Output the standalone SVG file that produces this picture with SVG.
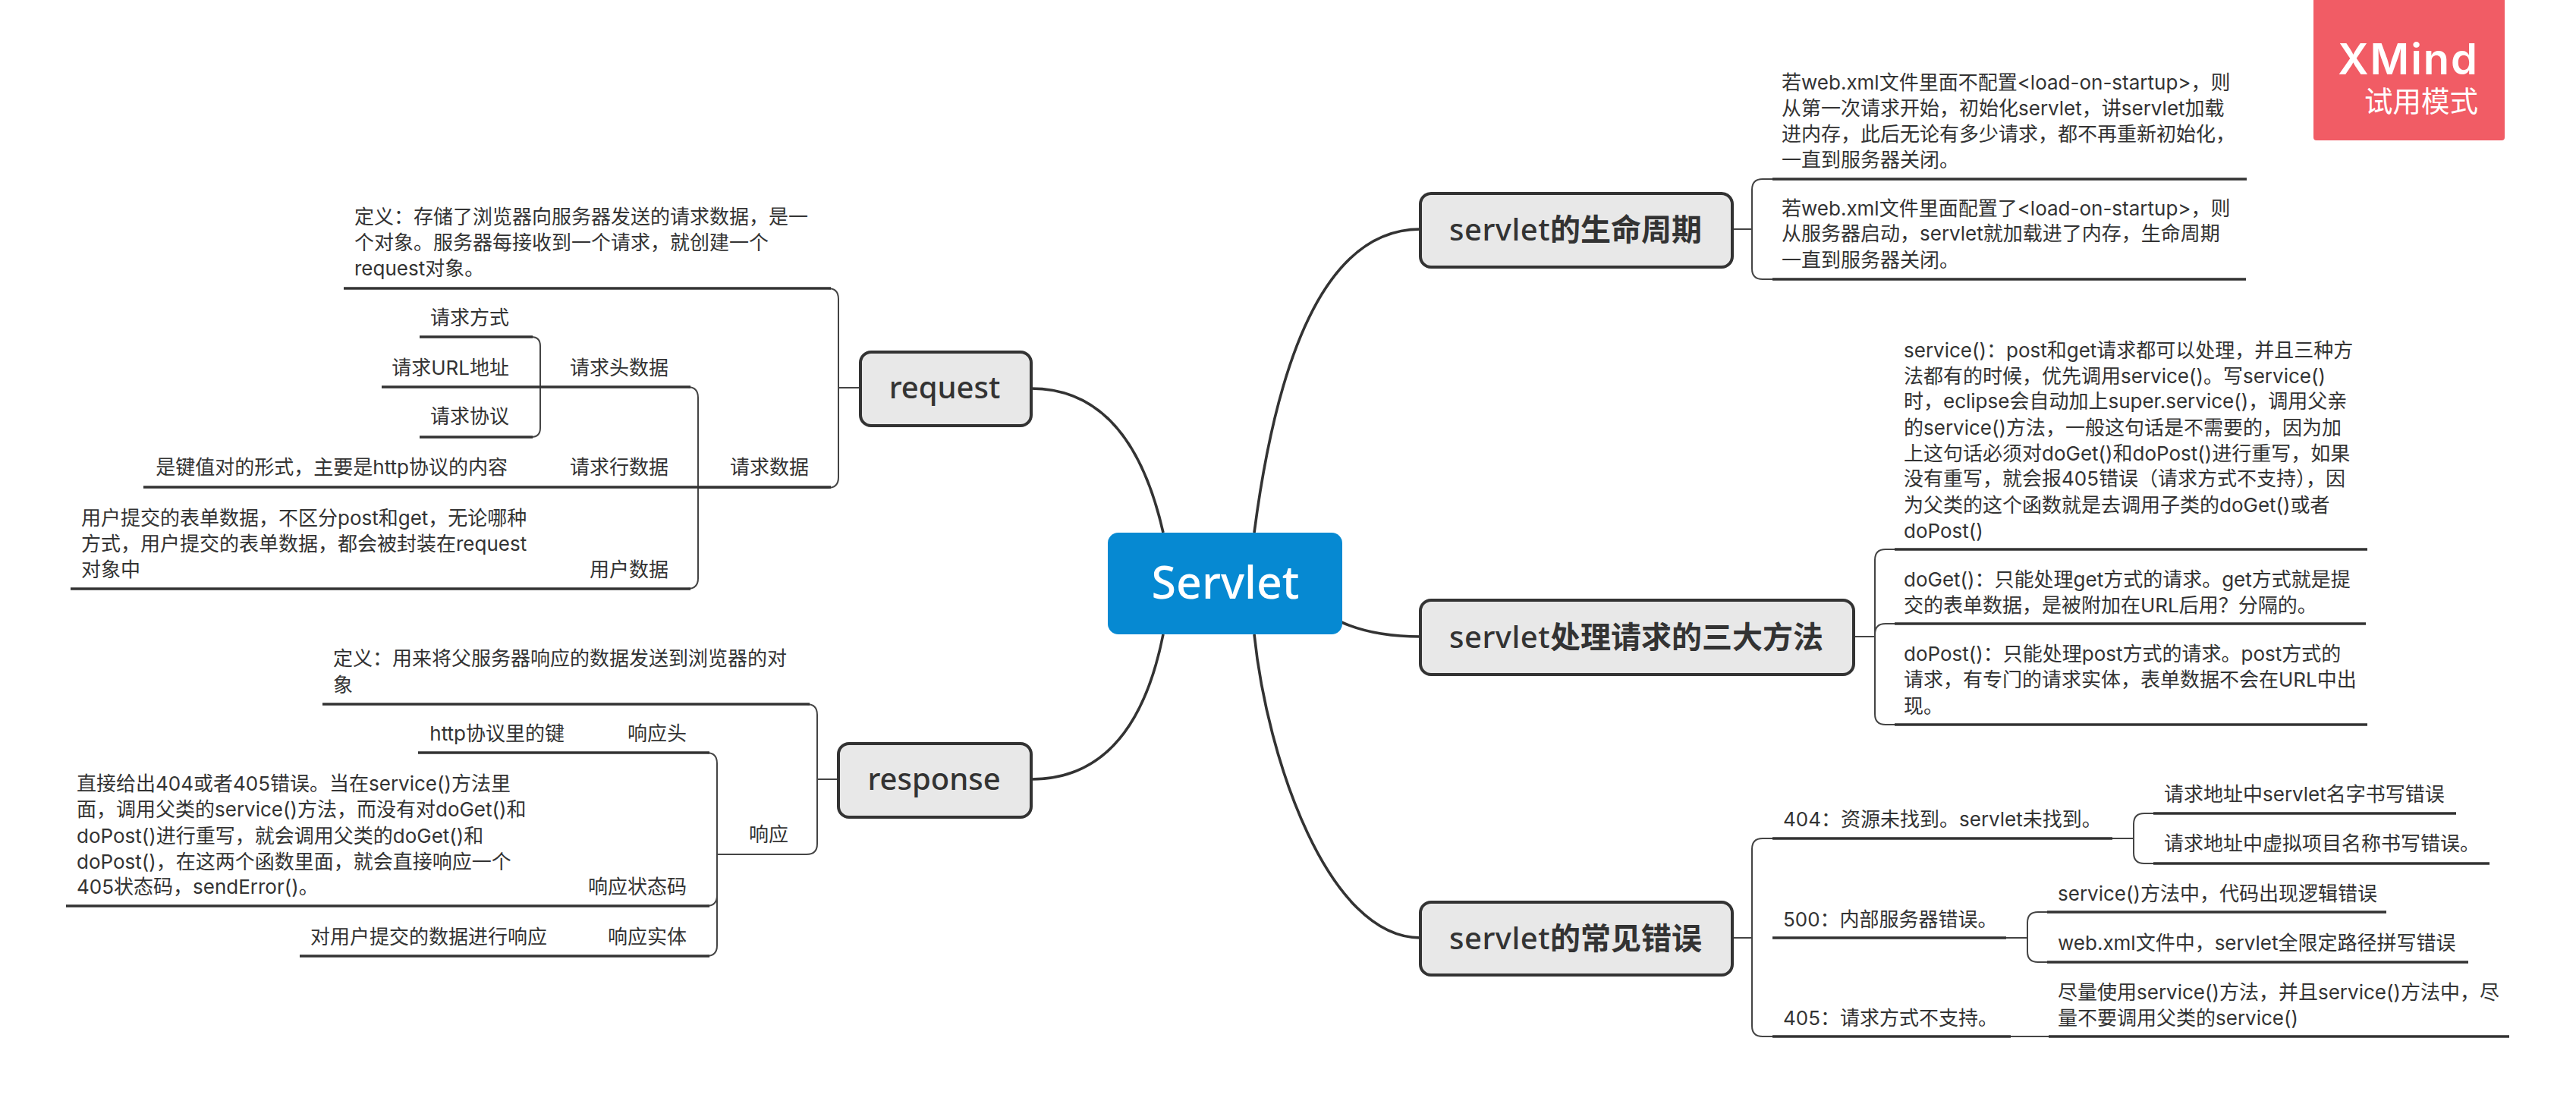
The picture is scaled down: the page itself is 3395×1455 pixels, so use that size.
<svg xmlns="http://www.w3.org/2000/svg" width="3395" height="1455" viewBox="0 0 3395 1455">
<style>
text{font-family:"Inter","Noto Sans CJK SC",sans-serif;font-size:26px;fill:#333}
.e{text-anchor:end}
.t{font-family:"Noto Sans","Noto Sans CJK SC",sans-serif;font-size:40px;font-weight:700;fill:#333}
.m{font-weight:500}
.s{letter-spacing:.5px}
.tb{fill:#e8e8e8;stroke:#333;stroke-width:4}
.u{fill:none;stroke:#333;stroke-width:3.5}
.b{fill:none;stroke:#444;stroke-width:2}
.c{fill:none;stroke:#333;stroke-width:3.6}
</style>
<rect width="3395" height="1455" fill="#fff"/>
<g id="connectors">
<path class="c" d="M1653 702Q1705 302 1872 302"/>
<path class="c" d="M1533 702Q1490 512 1359 512"/>
<path class="c" d="M1533 836Q1495 1027 1359 1027"/>
<path class="c" d="M1653 836C1670 1000 1750 1236 1872 1236"/>
<path class="c" d="M1768 820Q1810 839 1872 839"/>
<path class="b" d="M1105 511H1134M2284 302H2309M2443 839H2471M2284 1236H2309M2784 1105H2812M2644 1236H2672M2650 1366H2700M1077 1027H1105"/>
<path class="b" d="M1040 380H1091Q1105 380 1105 394V629Q1105 643 1091 643H920"/>
<path class="b" d="M690 444H700Q712 444 712 456V564Q712 576 700 576H690"/>
<path class="b" d="M880 510H906Q920 510 920 524V762Q920 776 906 776H880"/>
<path class="b" d="M1040 928H1063Q1077 928 1077 942V1112Q1077 1126 1063 1126H945"/>
<path class="b" d="M900 992H931Q945 992 945 1006V1180Q945 1194 931 1194M945 1180V1246Q945 1260 931 1260H900"/>
<path class="b" d="M2336 236H2323Q2309 236 2309 250V354Q2309 368 2323 368H2336"/>
<path class="b" d="M2497 724H2485Q2471 724 2471 738V941Q2471 955 2485 955H2497M2497 822H2485Q2471 822 2471 836"/>
<path class="b" d="M2336 1105H2323Q2309 1105 2309 1119V1352Q2309 1366 2323 1366H2336"/>
<path class="b" d="M2838 1072H2826Q2812 1072 2812 1086V1124Q2812 1138 2826 1138H2838"/>
<path class="b" d="M2698 1202H2686Q2672 1202 2672 1216V1254Q2672 1268 2686 1268H2698"/>
<g class="underlines">
<path class="u" d="M453 380H1095M553 444H702M553 576H702M503 510H910M189 642H1095M93 776H910"/>
<path class="u" d="M425 928H1067M551 992H935M87 1194H935M395 1260H935"/>
<path class="u" d="M2336 236H2961M2336 368H2960M2497 724H3120M2497 822H3118M2497 955H3120"/>
<path class="u" d="M2336 1105H2784M2336 1236H2644M2336 1366H2650M2700 1366H3307"/>
<path class="u" d="M2838 1072H3237M2838 1138H3281M2698 1202H3145M2698 1268H3253"/>
</g>
</g>
<g id="root"><rect x="1460" y="702" width="309" height="134" rx="14" fill="#0689d2"/><text class="t" x="1615" y="789" text-anchor="middle" style="font-size:59px;font-weight:500;fill:#fff">Servlet</text></g>
<g id="request"><rect class="tb" x="1134" y="464" width="225" height="97" rx="14"/><text class="t m" x="1245" y="525" text-anchor="middle">request</text></g>
<g id="response"><rect class="tb" x="1105" y="980" width="254" height="97" rx="14"/><text class="t m" x="1231" y="1041" text-anchor="middle">response</text></g>
<g id="lifecycle"><rect class="tb" x="1872" y="255" width="411" height="97" rx="14"/><text class="t" x="1910" y="317"><tspan class="m s">servlet</tspan>的生命周期</text></g>
<g id="methods"><rect class="tb" x="1872" y="791" width="571" height="98" rx="14"/><text class="t" x="1910" y="854"><tspan class="m s">servlet</tspan>处理请求的三大方法</text></g>
<g id="errors"><rect class="tb" x="1872" y="1189" width="411" height="96" rx="14"/><text class="t" x="1910" y="1251"><tspan class="m s">servlet</tspan>的常见错误</text></g>
<g id="req-def"><text x="467" y="295">定义：存储了浏览器向服务器发送的请求数据，是一</text><text x="467" y="329">个对象。服务器每接收到一个请求，就创建一个</text><text x="467" y="363">request对象。</text></g>
<g id="req-data"><text x="962" y="625">请求数据</text></g>
<g id="req-head"><text x="881" y="494" class="e">请求头数据</text></g>
<g id="req-line"><text x="881" y="625" class="e">请求行数据</text></g>
<g id="req-user"><text x="881" y="760" class="e">用户数据</text></g>
<g id="req-method"><text x="671" y="428" class="e">请求方式</text></g>
<g id="req-url"><text x="671" y="494" class="e">请求URL地址</text></g>
<g id="req-proto"><text x="671" y="558" class="e">请求协议</text></g>
<g id="req-kv"><text x="669" y="625" class="e">是键值对的形式，主要是http协议的内容</text></g>
<g id="req-form"><text x="107" y="692">用户提交的表单数据，不区分post和get，无论哪种</text><text x="107" y="726">方式，用户提交的表单数据，都会被封装在request</text><text x="107" y="760">对象中</text></g>
<g id="res-def"><text x="439" y="877">定义：用来将父服务器响应的数据发送到浏览器的对</text><text x="439" y="912">象</text></g>
<g id="res-data"><text x="987" y="1109">响应</text></g>
<g id="res-head"><text x="905" y="976" class="e">响应头</text></g>
<g id="res-status"><text x="905" y="1178" class="e">响应状态码</text></g>
<g id="res-body"><text x="905" y="1244" class="e">响应实体</text></g>
<g id="res-key"><text x="744" y="976" class="e">http协议里的键</text></g>
<g id="res-code"><text x="101" y="1042">直接给出404或者405错误。当在service()方法里</text><text x="101" y="1076">面，调用父类的service()方法，而没有对doGet()和</text><text x="101" y="1111">doPost()进行重写，就会调用父类的doGet()和</text><text x="101" y="1145">doPost()，在这两个函数里面，就会直接响应一个</text><text x="101" y="1178">405状态码，sendError()。</text></g>
<g id="res-resp"><text x="721" y="1244" class="e">对用户提交的数据进行响应</text></g>
<g id="life-1"><text x="2348" y="118">若web.xml文件里面不配置&lt;load-on-startup&gt;，则</text><text x="2348" y="152">从第一次请求开始，初始化servlet，讲servlet加载</text><text x="2348" y="186">进内存，此后无论有多少请求，都不再重新初始化，</text><text x="2348" y="220">一直到服务器关闭。</text></g>
<g id="life-2"><text x="2348" y="284">若web.xml文件里面配置了&lt;load-on-startup&gt;，则</text><text x="2348" y="317">从服务器启动，servlet就加载进了内存，生命周期</text><text x="2348" y="352">一直到服务器关闭。</text></g>
<g id="m-service"><text x="2509" y="471">service()：post和get请求都可以处理，并且三种方</text><text x="2509" y="505">法都有的时候，优先调用service()。写service()</text><text x="2509" y="538">时，eclipse会自动加上super.service()，调用父亲</text><text x="2509" y="573">的service()方法，一般这句话是不需要的，因为加</text><text x="2509" y="607">上这句话必须对doGet()和doPost()进行重写，如果</text><text x="2509" y="640">没有重写，就会报405错误（请求方式不支持），因</text><text x="2509" y="675">为父类的这个函数就是去调用子类的doGet()或者</text><text x="2509" y="709">doPost()</text></g>
<g id="m-get"><text x="2509" y="773">doGet()：只能处理get方式的请求。get方式就是提</text><text x="2509" y="807">交的表单数据，是被附加在URL后用？分隔的。</text></g>
<g id="m-post"><text x="2509" y="871">doPost()：只能处理post方式的请求。post方式的</text><text x="2509" y="905">请求，有专门的请求实体，表单数据不会在URL中出</text><text x="2509" y="940">现。</text></g>
<g id="e-404"><text x="2350" y="1089">404：资源未找到。servlet未找到。</text></g>
<g id="e-500"><text x="2350" y="1221">500：内部服务器错误。</text></g>
<g id="e-405"><text x="2350" y="1351">405：请求方式不支持。</text></g>
<g id="e-404-1"><text x="2852" y="1056">请求地址中servlet名字书写错误</text></g>
<g id="e-404-2"><text x="2852" y="1121">请求地址中虚拟项目名称书写错误。</text></g>
<g id="e-500-1"><text x="2712" y="1187">service()方法中，代码出现逻辑错误</text></g>
<g id="e-500-2"><text x="2712" y="1252">web.xml文件中，servlet全限定路径拼写错误</text></g>
<g id="e-405-1"><text x="2712" y="1317">尽量使用service()方法，并且service()方法中，尽</text><text x="2712" y="1351">量不要调用父类的service()</text></g>
<g id="watermark"><rect x="3049" y="-6" width="252" height="191" rx="4" fill="#f15c65"/><text x="3267" y="98" text-anchor="end" style="font-family:Inter,sans-serif;font-size:56px;fill:#fff;font-weight:600;letter-spacing:2px">XMind</text><text x="3266" y="147" text-anchor="end" style="font-family:'Noto Sans CJK SC',sans-serif;font-size:37.5px;fill:#fff">试用模式</text></g>
</svg>
